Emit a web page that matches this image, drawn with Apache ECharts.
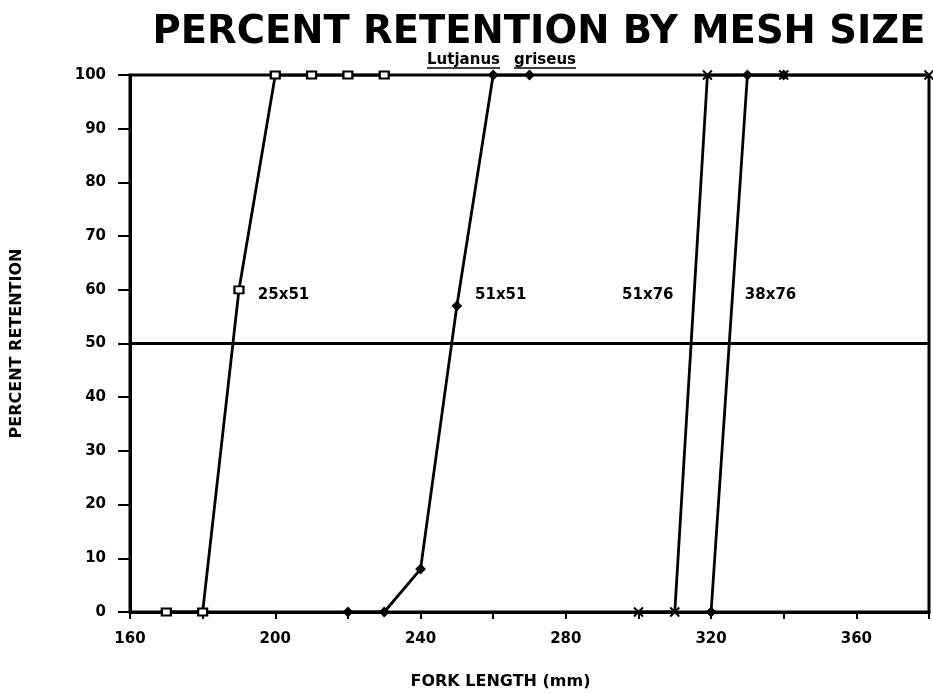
<!DOCTYPE html>
<html><head><meta charset="utf-8">
<script src="https://cdn.jsdelivr.net/npm/echarts@6/dist/echarts.min.js"></script>
<style>html,body{margin:0;padding:0;background:#fff}#chart{width:933px;height:695px}</style>
</head><body><div id="chart"></div>
<script>
// Percent retention (y) against fork length in mm (x) for each mesh size
const mesh25x51 = [[170, 0], [180, 0], [190, 60], [200, 100], [210, 100], [220, 100], [230, 100]];
const mesh51x51 = [[220, 0], [230, 0], [240, 8], [250, 57], [260, 100], [270, 100]];
const mesh51x76 = [[300, 0], [310, 0], [319, 100], [340, 100], [380, 100]];
const mesh38x76 = [[320, 0], [330, 100], [340, 100]];
// Curve captions: [fork length, percent, text]
const meshLabels = [[195.2, 59, '25x51'], [255, 59, '51x51'], [295.5, 59, '51x76'], [329.3, 59, '38x76']];
const xLabelStep = 40;

const FONT = '"DejaVu Sans", sans-serif';
const crossPath = 'path://M0,0L10,10M10,0L0,10';

function lineSeries(name, data, symbol, size, filled) {
  return {
    name, type: 'line', data, symbol, symbolSize: size,
    lineStyle: { color: '#000', width: 2.8 },
    itemStyle: { color: filled ? '#000' : '#fff', borderColor: '#000', borderWidth: 2 },
    z: 3
  };
}

// Species name, each word underlined separately
const subFont = 'bold 15px ' + FONT;
const subY = 60;

const chart = echarts.init(document.getElementById('chart'));
chart.setOption({
  animation: false,
  backgroundColor: '#fff',
  title: {
    text: 'PERCENT RETENTION BY MESH SIZE',
    left: 534, top: 8, textAlign: 'center',
    textStyle: { fontFamily: FONT, fontWeight: 'bold', fontSize: 38.5, color: '#000' }
  },
  graphic: [
    { type: 'text', x: 500, y: subY, style: { text: 'Lutjanus', font: subFont, fill: '#000', textAlign: 'right', textVerticalAlign: 'middle' } },
    { type: 'text', x: 514, y: subY, style: { text: 'griseus', font: subFont, fill: '#000', textAlign: 'left', textVerticalAlign: 'middle' } },
    { type: 'line', shape: { x1: 427, y1: subY + 8, x2: 500, y2: subY + 8 }, style: { stroke: '#000', lineWidth: 1.5 } },
    { type: 'line', shape: { x1: 514, y1: subY + 8, x2: 576, y2: subY + 8 }, style: { stroke: '#000', lineWidth: 1.5 } }
  ],
  grid: { left: 130, right: 4, top: 75, bottom: 78, show: true, borderColor: '#000', borderWidth: 3 },
  xAxis: {
    type: 'value', min: 160, max: 380, interval: 20,
    name: 'FORK LENGTH (mm)', nameLocation: 'middle', nameGap: 62,
    nameTextStyle: { fontFamily: FONT, fontWeight: 'bold', fontSize: 16, color: '#000', padding: [0, 58, 0, 0] },
    axisLine: { lineStyle: { color: '#000', width: 3 } },
    axisTick: { length: 7, lineStyle: { color: '#000', width: 2 } },
    axisLabel: {
      margin: 20, fontFamily: FONT, fontWeight: 'bold', fontSize: 15, color: '#000',
      formatter: v => (v % xLabelStep === 0 ? String(v) : '')
    },
    splitLine: { show: false }
  },
  yAxis: {
    type: 'value', min: 0, max: 100, interval: 10,
    name: 'PERCENT RETENTION', nameLocation: 'middle', nameGap: 105, nameRotate: 90,
    nameTextStyle: { fontFamily: FONT, fontWeight: 'bold', fontSize: 16, color: '#000' },
    axisLine: { lineStyle: { color: '#000', width: 3 } },
    axisTick: { length: 12, lineStyle: { color: '#000', width: 2 } },
    axisLabel: { margin: 24, fontFamily: FONT, fontWeight: 'bold', fontSize: 15, color: '#000' },
    splitLine: { show: false }
  },
  series: [
    Object.assign(lineSeries('25x51', mesh25x51, 'rect', [9, 7], false), {
      markLine: {
        silent: true, symbol: 'none', label: { show: false },
        lineStyle: { color: '#000', width: 3, type: 'solid' },
        data: [{ yAxis: 50 }]
      }
    }),
    lineSeries('51x51', mesh51x51, 'diamond', 8, true),
    lineSeries('51x76', mesh51x76, crossPath, 9, false),
    lineSeries('38x76', mesh38x76, 'diamond', 8, true),
    {
      name: 'captions', type: 'scatter', symbolSize: 0, z: 4,
      itemStyle: { opacity: 1 },
      data: meshLabels.map(d => ({ value: [d[0], d[1]], name: d[2] })),
      label: {
        show: true, position: 'right', distance: 0, formatter: p => p.name,
        fontFamily: FONT, fontWeight: 'bold', fontSize: 15, color: '#000', opacity: 1
      }
    }
  ]
});
</script></body></html>
